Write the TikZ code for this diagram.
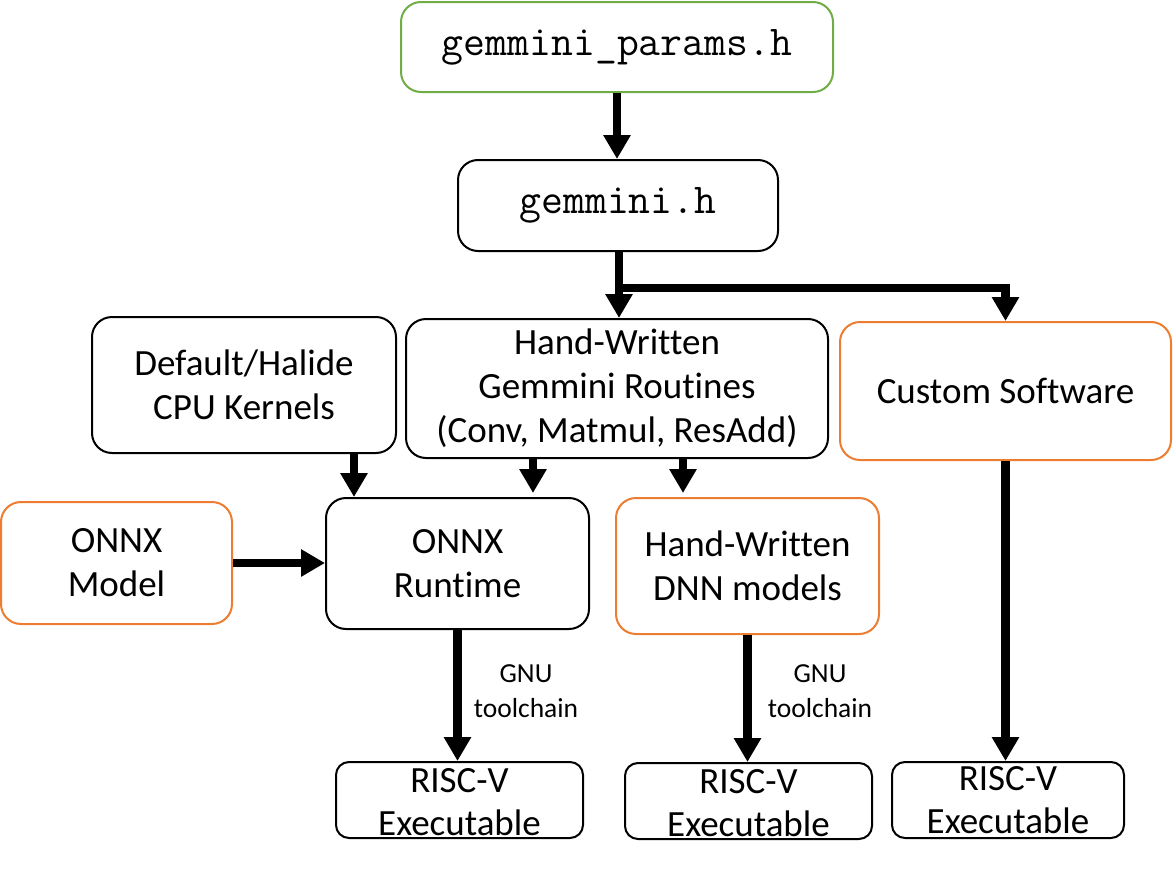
\documentclass[tikz,border=0pt]{standalone}
\usepackage{fontspec}
\setmainfont{Carlito}[Ligatures={NoCommon,NoRare,NoContextual}]
\usetikzlibrary{arrows.meta,calc}
\definecolor{offgreen}{RGB}{112,173,71}
\definecolor{offorange}{RGB}{237,125,49}
\begin{document}
\begin{tikzpicture}[x=1pt,y=-1pt,
  box/.style={draw=black,line width=2pt,rounded corners=20pt,fill=white,align=center,
    font=\fontsize{37}{44}\selectfont,inner sep=0pt},
  greenbox/.style={box,draw=offgreen},
  orangebox/.style={box,draw=offorange},
  rvbox/.style={draw=black,line width=2pt,rounded corners=13pt,inner sep=0pt},
  bigtext/.style={align=center,font=\fontsize{37}{43}\selectfont,inner sep=0pt},
  smalltext/.style={align=center,font=\fontsize{27.5}{35}\selectfont,inner sep=0pt},
  monotext/.style={font=\ttfamily\fontsize{42.5}{48}\selectfont},
  arr/.style={line width=8.5pt,-{Triangle[width=26pt,length=24pt]},line join=miter}
]
\useasboundingbox (0,0) rectangle (1173,870);

% boxes
\node[greenbox,minimum width=432pt,minimum height=90pt,monotext] (params) at (617,47) {gemmini\_params.h};
\node[box,minimum width=320pt,minimum height=91pt,monotext] (gh) at (618,205.5) {gemmini.h};
\node[box,minimum width=304pt,minimum height=136pt] (cpu) at (244,385) {Default/Halide\\CPU Kernels};
\node[box,minimum width=422pt,minimum height=139pt] (routines) at (617,388.5) {Hand-Written\\Gemmini Routines\\(Conv, Matmul, ResAdd)};
\node[orangebox,minimum width=331pt,minimum height=138pt] (custom) at (1005.5,391) {Custom Software};
\node[orangebox,minimum width=231pt,minimum height=122pt] (onnxm) at (116.5,563) {ONNX\\Model};
\node[box,minimum width=263pt,minimum height=131pt] (onnxr) at (457.5,563.5) {ONNX\\Runtime};
\node[orangebox,minimum width=263pt,minimum height=136pt] (dnn) at (747.5,566) {Hand-Written\\DNN models};

\node[rvbox,minimum width=247pt,minimum height=76pt] (rv1) at (459.5,800) {};
\node[rvbox,minimum width=247pt,minimum height=76pt] (rv2) at (748.5,801) {};
\node[rvbox,minimum width=232pt,minimum height=76pt] (rv3) at (1008,800) {};
\node[bigtext] (rv1t) at ($(rv1.center)+(0,2.5)$) {RISC-V\\Executable};
\node[bigtext] (rv2t) at ($(rv2.center)+(0,2.5)$) {RISC-V\\Executable};
\node[bigtext] (rv3t) at ($(rv3.center)+(0,0)$) {RISC-V\\Executable};

% labels
\node[smalltext] (gnu1) at (526,691) {GNU\\toolchain};
\node[smalltext] (gnu2) at (820,691) {GNU\\toolchain};

% connectors
\coordinate (br) at (619,288);
\draw[arr] (params.south) -- (params.south |- gh.north);
\draw[arr] (br |- gh.south) -- (br |- routines.north);
\draw[arr] (br |- gh.south) -- (br) -| (custom.north);
\draw[arr] ([xshift=110pt]cpu.south) -- ([xshift=110pt]cpu.south |- onnxr.north);
\draw[arr] ([xshift=-84pt]routines.south) -- ([xshift=-84pt,yshift=4pt]routines.south |- onnxr.north);
\draw[arr] ([xshift=66pt]routines.south) -- ([xshift=66pt,yshift=4pt]routines.south |- dnn.north);
\draw[arr] (onnxm.east) -- (onnxm.east -| onnxr.west);
\draw[arr] (onnxr.south) -- (onnxr.south |- rv1.north);
\draw[arr] (dnn.south) -- (dnn.south |- rv2.north);
\draw[arr] (custom.south) -- (custom.south |- rv3.north);
\end{tikzpicture}
\end{document}
